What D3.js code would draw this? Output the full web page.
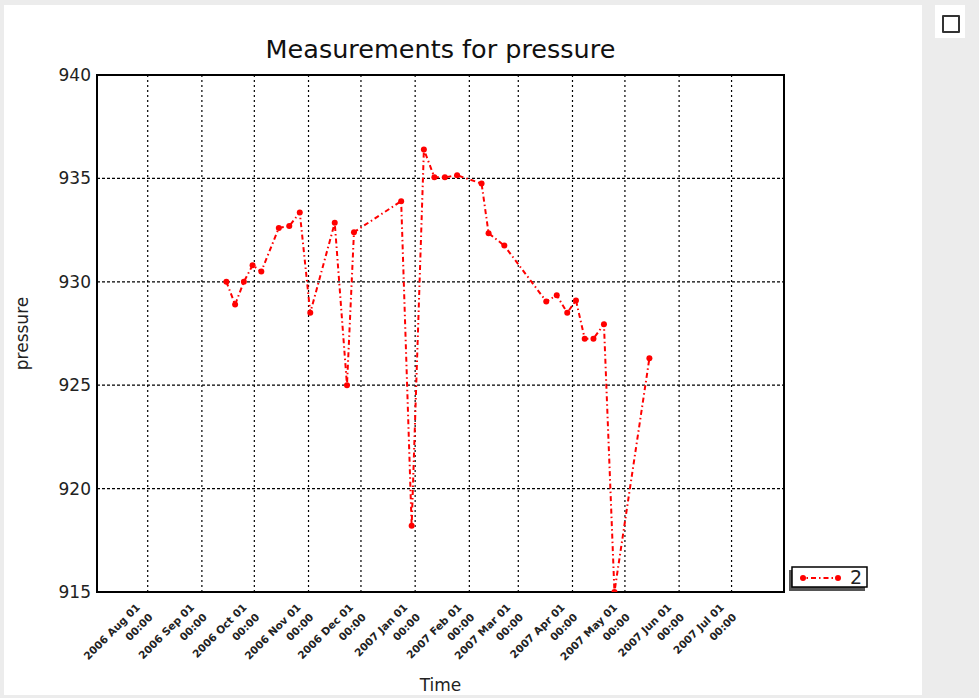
<!DOCTYPE html>
<html>
<head>
<meta charset="utf-8">
<script src="https://d3js.org/d3.v7.min.js"></script>
<style>
  body { margin: 0; background: #ececec; }
  #panel { position: absolute; left: 4px; top: 5px; width: 918px; height: 690px; background: #fff; }
  #cbox { position: absolute; left: 935px; top: 5px; width: 30px; height: 33px; background: #fff; }
  #cbox div { position: absolute; left: 7px; top: 10px; width: 14px; height: 14px; border: 2px solid #333; border-radius: 1px; background: #fff; }
  svg { position: absolute; left: 0; top: 0; }
  text { font-family: "DejaVu Sans", sans-serif; }
</style>
</head>
<body>
<div id="panel"></div>
<div id="cbox"><div></div></div>
<div id="chart"></div>
<script>
// measurement dates and pressure values
var dates = ["2006-09-15", "2006-09-20", "2006-09-25", "2006-09-30", "2006-10-05",
  "2006-10-15", "2006-10-21", "2006-10-27", "2006-11-02", "2006-11-16",
  "2006-11-23", "2006-11-27", "2006-12-24", "2006-12-30", "2007-01-06",
  "2007-01-12", "2007-01-18", "2007-01-25", "2007-02-08", "2007-02-12",
  "2007-02-21", "2007-03-17", "2007-03-23", "2007-03-29", "2007-04-03",
  "2007-04-08", "2007-04-13", "2007-04-19", "2007-04-25", "2007-05-15"];
var pressure = [930.0, 928.9, 930.0, 930.8, 930.5,
  932.6, 932.7, 933.35, 928.5, 932.85,
  925.0, 932.4, 933.9, 918.2, 936.4,
  935.05, 935.05, 935.15, 934.75, 932.35,
  931.75, 929.05, 929.35, 928.5, 929.1,
  927.25, 927.25, 927.95, 915.0, 926.3];
var yTicks = [915, 920, 925, 930, 935, 940];
var xRange = ["2006-07-03", "2007-07-31"];
var seriesName = "2";

var margin = {top: 75, right: 195, bottom: 106, left: 97},
    width = 979 - margin.left - margin.right,
    height = 698 - margin.top - margin.bottom;

var parse = d3.utcParse("%Y-%m-%d");
var data = dates.map(function(d, i) { return {date: parse(d), value: pressure[i]}; });

var x = d3.scaleUtc().domain(xRange.map(parse)).range([0, width]);
var y = d3.scaleLinear().domain([915, 940]).range([height, 0]);

var svg = d3.select("#chart").append("svg")
    .attr("width", 979)
    .attr("height", 698);

var g = svg.append("g")
    .attr("transform", "translate(" + margin.left + "," + margin.top + ")");

g.append("defs").append("clipPath").attr("id", "clip")
  .append("rect").attr("width", width).attr("height", height);

var months = d3.utcMonth.range(parse("2006-08-01"), parse("2007-07-02"));

// grid
g.selectAll(".vgrid").data(months).enter().append("line")
    .attr("x1", function(d) { return x(d); })
    .attr("x2", function(d) { return x(d); })
    .attr("y1", 0).attr("y2", height)
    .attr("stroke", "#000").attr("stroke-width", 1.2)
    .attr("stroke-dasharray", "2,3");

g.selectAll(".hgrid").data(yTicks.slice(1, -1)).enter().append("line")
    .attr("x1", 0).attr("x2", width)
    .attr("y1", function(d) { return y(d); })
    .attr("y2", function(d) { return y(d); })
    .attr("stroke", "#000").attr("stroke-width", 1.2)
    .attr("stroke-dasharray", "3,2");

// frame
g.append("rect")
    .attr("width", width).attr("height", height)
    .attr("fill", "none").attr("stroke", "#000").attr("stroke-width", 2);

// y tick labels
g.selectAll(".ylab").data(yTicks).enter().append("text")
    .attr("x", -6)
    .attr("y", function(d) { return y(d); })
    .attr("dy", "0.35em")
    .attr("text-anchor", "end")
    .style("font-size", "17px")
    .attr("fill", "#222")
    .text(function(d) { return d; });

// x tick labels, rotated two-line
var fmt1 = d3.utcFormat("%Y %b %d"), fmt2 = d3.utcFormat("%H:%M");
var xl = g.selectAll(".xlab").data(months).enter().append("text")
    .attr("transform", function(d) {
      return "translate(" + (x(d) - 7) + "," + (height + 16) + ") rotate(-45)";
    })
    .attr("text-anchor", "end")
    .style("font-size", "10.5px")
    .style("font-weight", "bold")
    .attr("fill", "#222");
xl.append("tspan").attr("x", 0).attr("y", 0).text(function(d) { return fmt1(d); });
xl.append("tspan").attr("x", 2).attr("y", 16).text(function(d) { return fmt2(d); });

// line + markers
var line = d3.line()
    .x(function(d) { return x(d.date); })
    .y(function(d) { return y(d.value); });

var plot = g.append("g").attr("clip-path", "url(#clip)");
plot.append("path")
    .datum(data)
    .attr("d", line)
    .attr("fill", "none")
    .attr("stroke", "red")
    .attr("stroke-width", 2)
    .attr("stroke-dasharray", "5,3,1.5,3");

plot.selectAll(".pt").data(data).enter().append("circle")
    .attr("cx", function(d) { return x(d.date); })
    .attr("cy", function(d) { return y(d.value); })
    .attr("r", 3)
    .attr("fill", "red");

// title and axis labels
svg.append("text")
    .attr("x", margin.left + width / 2).attr("y", 58)
    .attr("text-anchor", "middle")
    .style("font-size", "25.5px")
    .attr("fill", "#111")
    .text("Measurements for pressure");

svg.append("text")
    .attr("x", margin.left + width / 2).attr("y", 691)
    .attr("text-anchor", "middle")
    .style("font-size", "17px")
    .attr("fill", "#222")
    .text("Time");

svg.append("text")
    .attr("transform", "translate(28," + (margin.top + height / 2) + ") rotate(-90)")
    .attr("text-anchor", "middle")
    .style("font-size", "17px")
    .attr("fill", "#222")
    .text("pressure");

// legend with shadow
var lg = svg.append("g").attr("transform", "translate(792,567)");
lg.append("rect").attr("x", -3).attr("y", 3).attr("width", 76).attr("height", 21).attr("fill", "#555");
lg.append("rect").attr("width", 75).attr("height", 20)
    .attr("fill", "#fff").attr("stroke", "#000").attr("stroke-width", 1.5);
lg.append("line").attr("x1", 11).attr("x2", 46).attr("y1", 11).attr("y2", 11)
    .attr("stroke", "red").attr("stroke-width", 2).attr("stroke-dasharray", "5,3,1.5,3")
    .attr("stroke-dashoffset", -8);
lg.selectAll(".lm").data([11, 46]).enter().append("circle")
    .attr("cx", function(d) { return d; }).attr("cy", 11).attr("r", 3).attr("fill", "red");
lg.append("text").attr("x", 58).attr("y", 17)
    .style("font-size", "19px").attr("fill", "#222")
    .text(seriesName);
</script>
</body>
</html>
